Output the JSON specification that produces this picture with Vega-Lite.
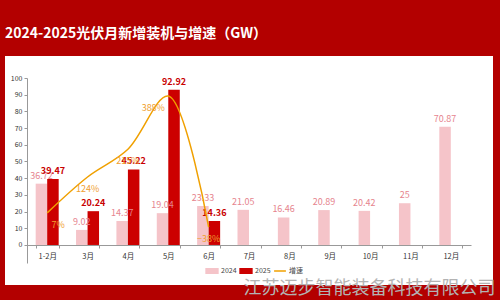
{
  "$schema": "https://vega.github.io/schema/vega-lite/v6.json",
  "autosize": {"type": "none"},
  "width": 444,
  "height": 185,
  "padding": {"left": 27, "top": 78, "right": 29, "bottom": 37},
  "background": "#b30000",
  "config": {
    "font": "Noto Sans CJK SC",
    "view": {"fill": "#ffffff", "stroke": "#ffffff", "strokeWidth": 44}
  },
  "title": {
    "text": "2024-2025光伏月新增装机与增速（GW）",
    "color": "#ffffff",
    "fontSize": 14,
    "fontWeight": "bold",
    "anchor": "start",
    "frame": "group",
    "baseline": "alphabetic",
    "dx": -22,
    "offset": 22
  },
  "datasets": {
    "bars": [
      {"month": "1-2月", "year": "2024", "value": 36.72},
      {"month": "3月", "year": "2024", "value": 9.02},
      {"month": "4月", "year": "2024", "value": 14.37},
      {"month": "5月", "year": "2024", "value": 19.04},
      {"month": "6月", "year": "2024", "value": 23.33},
      {"month": "7月", "year": "2024", "value": 21.05},
      {"month": "8月", "year": "2024", "value": 16.46},
      {"month": "9月", "year": "2024", "value": 20.89},
      {"month": "10月", "year": "2024", "value": 20.42},
      {"month": "11月", "year": "2024", "value": 25},
      {"month": "12月", "year": "2024", "value": 70.87},
      {"month": "1-2月", "year": "2025", "value": 39.47},
      {"month": "3月", "year": "2025", "value": 20.24},
      {"month": "4月", "year": "2025", "value": 45.22},
      {"month": "5月", "year": "2025", "value": 92.92},
      {"month": "6月", "year": "2025", "value": 14.36}
    ],
    "growth": [
      {"month": "1-2月", "growth": 0.0749},
      {"month": "3月", "growth": 1.2439},
      {"month": "4月", "growth": 2.1468},
      {"month": "5月", "growth": 3.8803},
      {"month": "6月", "growth": -0.3845}
    ]
  },
  "encoding": {
    "x": {
      "field": "month",
      "type": "nominal",
      "sort": ["1-2月", "3月", "4月", "5月", "6月", "7月", "8月", "9月", "10月", "11月", "12月"],
      "scale": {"domain": ["1-2月", "3月", "4月", "5月", "6月", "7月", "8月", "9月", "10月", "11月", "12月"], "paddingInner": 0.43, "paddingOuter": 0.215},
      "axis": {
        "title": "江苏迈步智能装备科技有限公司",
        "titleFontSize": 18,
        "titleFontWeight": "normal",
        "titleColor": "#b3b3b3",
        "titleAnchor": "end",
        "titleAlign": "right",
        "titleBaseline": "middle",
        "titleX": 468,
        "titleY": 43,
        "offset": -18,
        "labelAngle": 0,
        "labelFontSize": 7.5,
        "labelColor": "#333333",
        "labelPadding": 4,
        "domainColor": "#999999",
        "tickColor": "#999999",
        "tickSize": 3,
        "tickBand": "extent"
      }
    }
  },
  "layer": [
    {
      "data": {"name": "bars"},
      "encoding": {
        "xOffset": {"field": "year", "type": "nominal", "scale": {"domain": ["2024", "2025"], "paddingInner": 0}},
        "y": {
          "field": "value",
          "type": "quantitative",
          "scale": {"domain": [-10.8, 100], "nice": false, "zero": false},
          "axis": {
            "title": null,
            "values": [0, 10, 20, 30, 40, 50, 60, 70, 80, 90, 100],
            "grid": false,
            "labelFontSize": 7,
            "labelColor": "#333333",
            "labelPadding": 2,
            "tickSize": 3,
            "domainColor": "#999999",
            "tickColor": "#999999"
          }
        }
      },
      "layer": [
        {
          "mark": {"type": "bar"},
          "encoding": {
            "color": {
              "field": "year",
              "type": "nominal",
              "scale": {"domain": ["2024", "2025", "增速"], "range": ["#f5c4c9", "#cc0000", "#f0a000"]},
              "legend": {
                "title": null,
                "orient": "none",
                "direction": "horizontal",
                "legendX": 178,
                "legendY": 186,
                "gridAlign": "none",
                "labelFontSize": 7,
                "labelColor": "#444444",
                "labelOffset": 2,
                "columnPadding": 0,
                "symbolSize": 140,
                "symbolStrokeWidth": 1.5,
                "encode": {
                  "symbols": {
                    "update": {
                      "shape": [{"test": "datum.value === '增速'", "value": "stroke"}, {"value": "M-1,-0.4H1V0.4H-1Z"}],
                      "fill": [{"test": "datum.value === '增速'", "value": "transparent"}, {"scale": "color", "field": "value"}],
                      "stroke": [{"test": "datum.value === '增速'", "value": "#f0a000"}, {"value": "transparent"}],
                      "opacity": {"value": 1}
                    }
                  }
                }
              }
            }
          }
        },
        {
          "transform": [{"filter": "datum.year === '2024'"}],
          "mark": {"type": "text", "baseline": "bottom", "dy": -3, "fontSize": 9, "color": "#e6848e"},
          "encoding": {"text": {"field": "value", "type": "quantitative"}}
        },
        {
          "transform": [{"filter": "datum.year === '2025'"}],
          "mark": {"type": "text", "baseline": "bottom", "dy": -3, "fontSize": 9, "fontWeight": "bold", "color": "#c80000"},
          "encoding": {"text": {"field": "value", "type": "quantitative"}}
        }
      ]
    },
    {
      "data": {"name": "growth"},
      "encoding": {
        "y": {
          "field": "growth",
          "type": "quantitative",
          "scale": {"domain": [-1.555, 4.466], "nice": false, "zero": false},
          "axis": null
        }
      },
      "layer": [
        {
          "mark": {"type": "line", "interpolate": "catmull-rom", "strokeWidth": 1.5},
          "encoding": {"color": {"datum": "增速"}}
        },
        {
          "mark": {"type": "text", "fontSize": 9, "color": "#f0a030", "baseline": "middle", "dy": 12,
            "dx": {"expr": "datum.month === '5月' ? -15 : (datum.month === '1-2月' ? 11 : 0)"}},
          "encoding": {"text": {"field": "growth", "type": "quantitative", "format": ".0%"}}
        }
      ]
    }
  ],
  "resolve": {"scale": {"y": "independent"}}
}
